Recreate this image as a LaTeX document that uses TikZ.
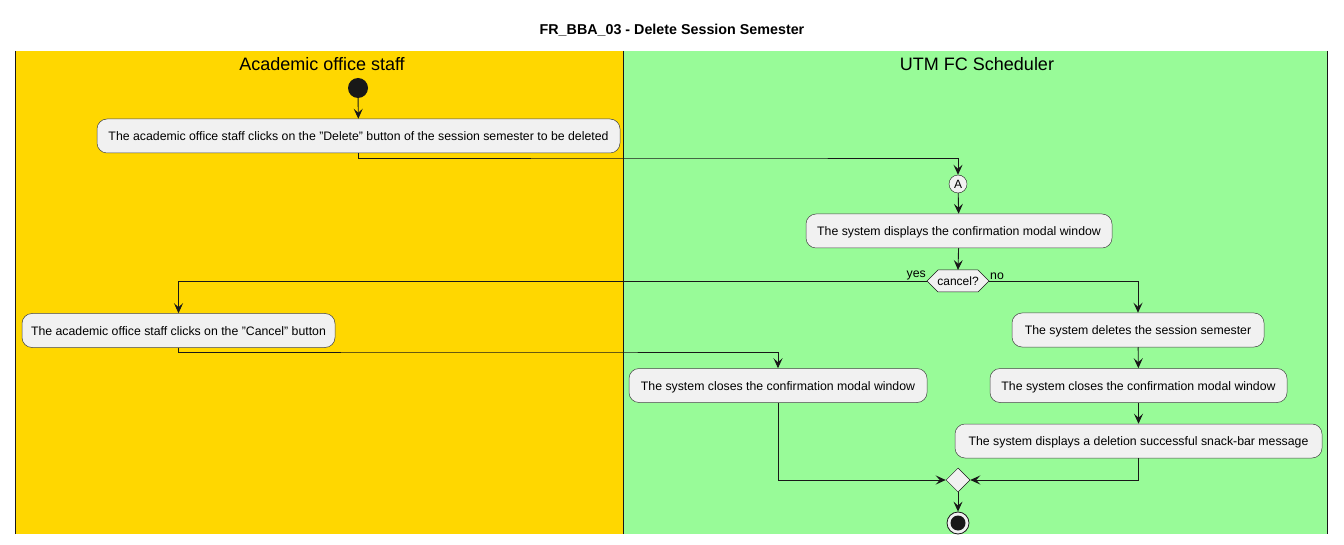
\documentclass[tikz,border=0pt]{standalone}
\usepackage{fontspec}
\setmainfont{Liberation Sans}
\usetikzlibrary{arrows.meta,shapes.geometric}
\definecolor{lanea}{HTML}{FFD700}
\definecolor{laneb}{HTML}{98FB98}
\definecolor{boxfill}{HTML}{F1F1F1}
\definecolor{ink}{HTML}{181818}
\tikzset{
  act/.style={draw=ink!80, fill=boxfill, rounded corners=10pt, line width=0.5pt,
    minimum height=34pt, inner xsep=9pt, text height=10.5pt, text depth=1.5pt, font=\fontsize{12.3}{14}\selectfont},
  flow/.style={draw=ink, line width=0.9pt, -{Stealth[length=10pt,width=9pt,inset=4pt]}},
  lanehead/.style={font=\fontsize{18}{20}\selectfont},
  small/.style={font=\fontsize{12.3}{14}\selectfont, inner sep=1pt}
}
\begin{document}
\begin{tikzpicture}[x=1pt,y=-1pt]
\useasboundingbox (0,0) rectangle (1344,545);
\fill[white] (0,0) rectangle (1344,545);
% lanes
\fill[lanea] (15,51) rectangle (623,534);
\fill[laneb] (623,51) rectangle (1327,534);
\draw[ink, line width=1pt] (15,51) -- (15,534);
\draw[ink, line width=1pt] (623,51) -- (623,534);
\draw[ink, line width=1pt] (1327,51) -- (1327,534);
\node[font=\bfseries\fontsize{14.3}{16}\selectfont] (title) at (672,30.5) {FR\_BBA\_03 - Delete Session Semester};
\node[lanehead] (la) at (322,64.5) {Academic office staff};
\node[lanehead] (lb) at (977,64.5) {UTM FC Scheduler};
% nodes
\node[circle, fill=ink, minimum size=20pt, inner sep=0pt] (start) at (358,88) {};
\node[act, minimum width=523pt] (b1) at (358.5,136) {The academic office staff clicks on the "Delete" button of the session semester to be deleted};
\node[circle, draw=ink, fill=boxfill, minimum size=18pt, inner sep=0pt, font=\fontsize{12}{13}\selectfont] (A) at (958,184) {A};
\node[act, minimum width=306pt] (b2) at (959,231) {The system displays the confirmation modal window};
\draw[ink, fill=boxfill, line width=0.5pt] (927,281) -- (938,270) -- (978,270) -- (989,281) -- (978,292) -- (938,292) -- cycle;
\node[minimum height=22pt, minimum width=62pt, inner sep=0pt, text height=10.5pt, text depth=1.5pt, font=\fontsize{12}{13}\selectfont] (dec) at (958,281.5) {cancel?};
\node[act, minimum width=313pt] (b3) at (178.5,330.5) {The academic office staff clicks on the "Cancel" button};
\node[act, minimum width=252pt] (b4) at (1138,330) {The system deletes the session semester};
\node[act, minimum width=298pt] (b5) at (778,385.5) {The system closes the confirmation modal window};
\node[act, minimum width=297pt] (b6) at (1138.5,385.5) {The system closes the confirmation modal window};
\node[act, minimum width=367pt] (b7) at (1138.5,441) {The system displays a deletion successful snack-bar message};
\node[diamond, draw=ink, fill=boxfill, line width=0.5pt, minimum width=24pt, minimum height=24pt, inner sep=0pt] (merge) at (958,480) {};
\node[circle, draw=ink, fill=boxfill, line width=0.8pt, minimum size=22pt, inner sep=0pt] (stop) at (958,523) {};
\node[circle, fill=ink, minimum size=15pt, inner sep=0pt] (stopin) at (958,523) {};
% labels
\node[small, anchor=south east] (yes) at (927,281) {yes};
\node[small, anchor=south west] (no) at (989,281) {no};
% connectors
\draw[flow] (start) -- (b1);
\draw[flow] (b1.south) |- (700,158) -| (A.north);
\draw[flow] (A) -- (b2);
\draw[flow] (b2) -- (958,270);
\draw[flow] (dec.west) -| (b3.north);
\draw[flow] (dec.east) -| (b4.north);
\draw[flow] (b3.south) |- (500,352) -| (b5.north);
\draw[flow] (b4) -- (b6);
\draw[flow] (b6) -- (b7);
\draw[flow] (b5.south) |- (merge.west);
\draw[flow] (b7.south) |- (merge.east);
\draw[flow] (merge) -- (stop);
\end{tikzpicture}
\end{document}
